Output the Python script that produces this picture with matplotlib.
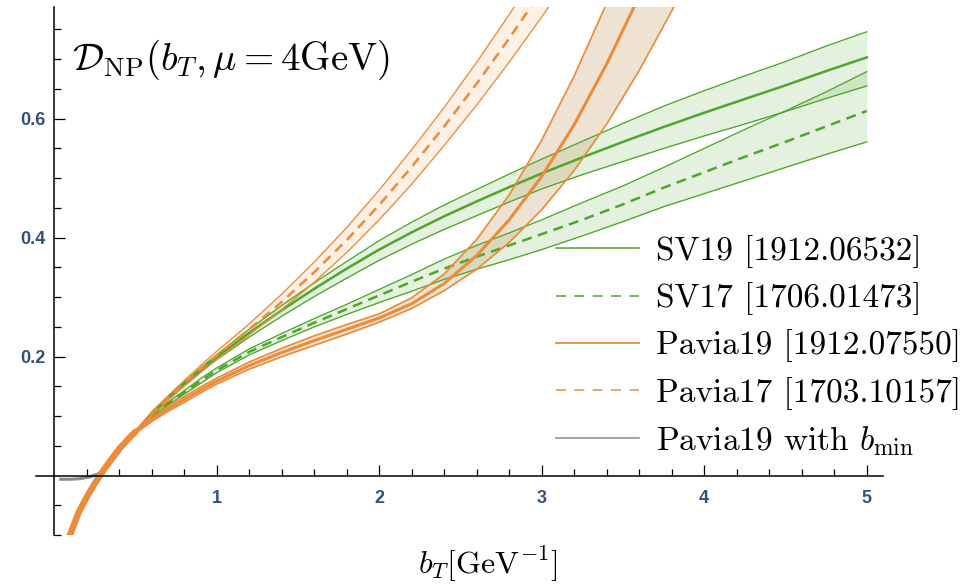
import matplotlib
matplotlib.use("Agg")
import matplotlib.pyplot as plt
from matplotlib.lines import Line2D
from matplotlib.font_manager import FontProperties
from matplotlib.ticker import FixedLocator

plt.rcParams['mathtext.fontset'] = 'cm'
plt.rcParams['axes.formatter.use_mathtext'] = True

# ---------------- data ----------------
# common small-b part shared by all curves
x_low = [0.09, 0.15, 0.20, 0.25, 0.30, 0.35, 0.40, 0.45, 0.50]
y_low = [-0.105, -0.062, -0.036, -0.013, 0.008, 0.027, 0.045, 0.060, 0.074]

# SV19 / SV17 (green)
x_sv = [0.6, 0.7, 0.8, 0.9, 1.0, 1.2, 1.4, 1.6, 1.8, 2.0, 2.2, 2.4, 2.6, 2.8,
        3.0, 3.25, 3.5, 3.75, 4.0, 4.25, 4.5, 4.75, 5.0]
sv19_mid = [0.105, 0.131, 0.155, 0.178, 0.199, 0.240, 0.278, 0.314, 0.348, 0.380,
            0.409, 0.436, 0.461, 0.485, 0.508, 0.535, 0.561, 0.586, 0.610, 0.633,
            0.656, 0.680, 0.703]
sv19_hi = [0.107, 0.133, 0.157, 0.181, 0.203, 0.246, 0.286, 0.324, 0.360, 0.395,
           0.426, 0.455, 0.481, 0.507, 0.532, 0.562, 0.592, 0.621, 0.647, 0.672,
           0.696, 0.722, 0.746]
sv19_lo = [0.103, 0.129, 0.153, 0.175, 0.195, 0.233, 0.268, 0.301, 0.332, 0.362,
           0.389, 0.414, 0.437, 0.460, 0.482, 0.506, 0.528, 0.550, 0.571, 0.591,
           0.612, 0.634, 0.655]
sv17_mid = [0.100, 0.121, 0.140, 0.159, 0.177, 0.208, 0.233, 0.257, 0.280, 0.303,
            0.326, 0.348, 0.368, 0.387, 0.406, 0.430, 0.456, 0.484, 0.510, 0.536,
            0.561, 0.587, 0.613]
sv17_hi = [0.102, 0.123, 0.143, 0.163, 0.181, 0.213, 0.239, 0.264, 0.288, 0.313,
           0.338, 0.364, 0.387, 0.408, 0.430, 0.459, 0.487, 0.518, 0.550, 0.582,
           0.613, 0.645, 0.679]
sv17_lo = [0.098, 0.119, 0.137, 0.155, 0.173, 0.203, 0.227, 0.250, 0.271, 0.291,
           0.310, 0.330, 0.347, 0.363, 0.380, 0.403, 0.427, 0.452, 0.474, 0.496,
           0.518, 0.540, 0.561]

# Pavia19 (orange solid, tan band)
x_p19 = [0.6, 0.7, 0.8, 0.9, 1.0, 1.2, 1.4, 1.6, 1.8, 2.0, 2.2, 2.4, 2.6, 2.8,
         3.0, 3.2, 3.4, 3.6, 3.8, 3.9]
p19_mid = [0.094, 0.112, 0.128, 0.144, 0.159, 0.185, 0.207, 0.227, 0.246, 0.265,
           0.289, 0.323, 0.370, 0.430, 0.503, 0.590, 0.692, 0.806, 0.93, 0.99]
p19_hi = [0.097, 0.116, 0.133, 0.149, 0.164, 0.191, 0.214, 0.235, 0.254, 0.272,
          0.299, 0.339, 0.397, 0.472, 0.564, 0.672, 0.794, 0.93, 1.07, 1.14]
p19_lo = [0.091, 0.108, 0.123, 0.139, 0.154, 0.179, 0.200, 0.219, 0.238, 0.258,
          0.281, 0.311, 0.347, 0.392, 0.447, 0.513, 0.591, 0.681, 0.781, 0.83]

# Pavia17 (orange dashed, light band)
x_p17 = [0.6, 0.7, 0.8, 0.9, 1.0, 1.2, 1.4, 1.6, 1.8, 2.0, 2.2, 2.4, 2.6, 2.8,
         3.0, 3.1]
p17_mid = [0.104, 0.130, 0.155, 0.179, 0.202, 0.246, 0.292, 0.342, 0.396, 0.455,
           0.519, 0.587, 0.659, 0.735, 0.815, 0.856]
p17_hi = [0.107, 0.134, 0.160, 0.185, 0.209, 0.255, 0.305, 0.359, 0.417, 0.480,
          0.548, 0.619, 0.695, 0.775, 0.859, 0.902]
p17_lo = [0.101, 0.126, 0.150, 0.173, 0.195, 0.237, 0.279, 0.325, 0.375, 0.430,
          0.490, 0.555, 0.623, 0.695, 0.771, 0.810]

# Pavia19 with b_min (gray)
x_bmin = [0.04, 0.10, 0.16, 0.22, 0.27, 0.32, 0.40]
y_bmin = [-0.006, -0.006, -0.005, -0.002, 0.003, 0.012, 0.040]

labels = ["SV19 [1912.06532]", "SV17 [1706.01473]", "Pavia19 [1912.07550]",
          "Pavia17 [1703.10157]", r"Pavia19 with $b_{\rm min}$"]
x_ticks = [1, 2, 3, 4, 5]
y_ticks = [0.2, 0.4, 0.6]

# ---------------- styling ----------------
GREEN = '#4ea62a'
ORANGE = '#ec8b3a'
GRAY = '#8a8a8a'
TICKC = '#34507a'

fig = plt.figure(figsize=(9.71, 5.85), dpi=100)
ax = fig.add_axes([36.3 / 971, (585 - 535.2) / 585, (883 - 36.3) / 971, (535.2 - 7.4) / 585])
ax.set_xlim(-0.11, 5.1)
ax.set_ylim(-0.1, 0.787)


def full(xs, ys, dy=0.0):
    return x_low + xs, [v + dy for v in y_low] + ys


lw_c = 1.8
lw_e = 0.95

# SV19
xa, ya = full(x_sv, sv19_hi)
_, yb = full(x_sv, sv19_lo)
ax.fill_between(xa, yb, ya, color=GREEN, alpha=0.15, lw=0)
ax.plot(xa, ya, color=GREEN, lw=lw_e)
ax.plot(xa, yb, color=GREEN, lw=lw_e)
xm, ym = full(x_sv, sv19_mid)
ax.plot(xm, ym, color=GREEN, lw=lw_c)

# SV17
xa, ya = full(x_sv, sv17_hi)
_, yb = full(x_sv, sv17_lo)
ax.fill_between(xa, yb, ya, color=GREEN, alpha=0.15, lw=0)
ax.plot(xa, ya, color=GREEN, lw=lw_e)
ax.plot(xa, yb, color=GREEN, lw=lw_e)
xm, ym = full(x_sv, sv17_mid)
ax.plot(xm, ym, color=GREEN, lw=lw_c, dashes=(4, 2.6))

# Pavia19
xa, ya = full(x_p19, p19_hi, 0.003)
_, yb = full(x_p19, p19_lo, -0.003)
ax.fill_between(xa, yb, ya, color='#c8a070', alpha=0.3, lw=0)
ax.plot(xa, ya, color=ORANGE, lw=lw_e * 1.3)
ax.plot(xa, yb, color=ORANGE, lw=lw_e * 1.3)
xm, ym = full(x_p19, p19_mid)
ax.plot(xm, ym, color=ORANGE, lw=lw_c * 1.2)

# Pavia17
xa, ya = full(x_p17, p17_hi)
_, yb = full(x_p17, p17_lo)
ax.fill_between(xa, yb, ya, color='#f7a050', alpha=0.15, lw=0)
ax.plot(xa, ya, color=ORANGE, lw=lw_e)
ax.plot(xa, yb, color=ORANGE, lw=lw_e)
xm, ym = full(x_p17, p17_mid)
ax.plot(xm, ym, color=ORANGE, lw=lw_c, dashes=(4, 2.6))

# small-b region: all orange curves overlap in one thick stroke
ax.plot(x_low, y_low, color=ORANGE, lw=4.6, solid_capstyle='round', zorder=2.6)

# gray b_min
ax.plot(x_bmin, y_bmin, color=GRAY, lw=2.2, zorder=1.5)

# ---------------- axes ----------------
for s in ['top', 'right']:
    ax.spines[s].set_visible(False)
ax.spines['left'].set_position(('data', 0))
ax.spines['bottom'].set_position(('data', 0))
for s in ['left', 'bottom']:
    ax.spines[s].set_linewidth(1.1)
    ax.spines[s].set_zorder(5)

ax.xaxis.set_major_locator(FixedLocator(x_ticks))
ax.yaxis.set_major_locator(FixedLocator(y_ticks))
ax.xaxis.set_minor_locator(FixedLocator([round(0.2 * i, 2) for i in range(1, 26) if i % 5]))
ax.yaxis.set_minor_locator(FixedLocator([round(0.05 * i, 2) for i in range(-2, 16) if i % 4 and i != 0]))
ax.set_xticklabels([str(t) for t in x_ticks])
ax.set_yticklabels([f"{t:.1f}" for t in y_ticks])
ax.tick_params(which='both', direction='in', width=0.9, color='black')
ax.tick_params(which='major', length=7.7)
ax.tick_params(which='minor', length=5)
ax.tick_params(axis='x', which='major', pad=10)
ax.tick_params(axis='y', which='major', pad=6.5)
for lab in ax.get_xticklabels() + ax.get_yticklabels():
    lab.set_fontfamily('Liberation Sans')
    lab.set_fontweight('bold')
    lab.set_fontsize(13)
    lab.set_color(TICKC)

# ---------------- texts ----------------
fig.text(72 / 971, 1 - 70 / 585, r'$\mathcal{D}_{\rm NP}(b_T,\mu=4{\rm GeV})$',
         fontsize=28, va='baseline', ha='left')
fig.text(488 / 971, 1 - 574 / 585, r'$b_T[{\rm GeV}^{-1}]$', fontsize=23,
         va='baseline', ha='center')

handles = [
    Line2D([], [], color=GREEN, lw=1.1),
    Line2D([], [], color=GREEN, lw=1.1, dashes=(6.5, 5.5)),
    Line2D([], [], color=ORANGE, lw=1.3),
    Line2D([], [], color=ORANGE, lw=1.1, dashes=(6.5, 5.5)),
    Line2D([], [], color=GRAY, lw=1.1),
]
leg = ax.legend(handles, labels, loc='upper left',
                bbox_to_anchor=(556 / 971, 1 - 235 / 585), bbox_transform=fig.transFigure,
                frameon=False, prop=FontProperties(family='cmr10', size=24),
                handlelength=2.5, handletextpad=0.5, labelspacing=0.43,
                borderpad=0, borderaxespad=0)

fig.savefig('out.png', dpi=100)
